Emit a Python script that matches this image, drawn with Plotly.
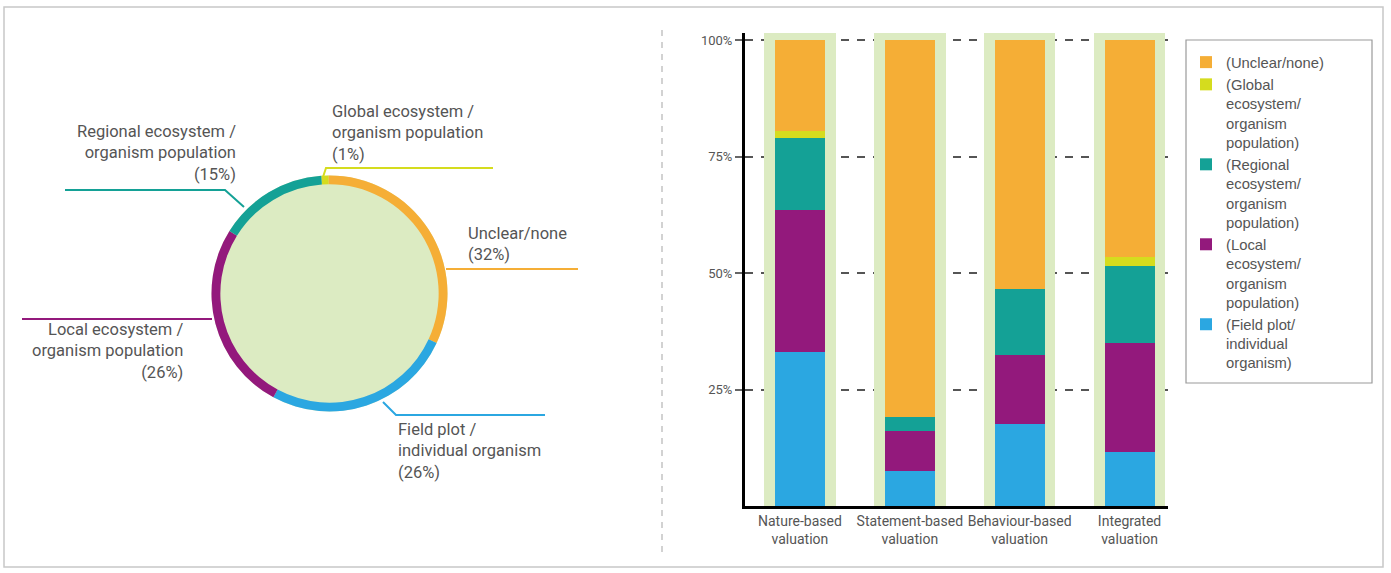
import plotly.graph_objects as go
import numpy as np

W, H = 1391, 573

# ---------------- data ----------------
pie_labels = ["Global ecosystem / organism population", "Unclear/none",
              "Field plot / individual organism", "Local ecosystem / organism population",
              "Regional ecosystem / organism population"]
pie_values = [1, 32, 26, 26, 15]
pie_colors = ["#d5dc1e", "#f5ae36", "#2ba7e1", "#93197c", "#14a196"]

categories = ["Nature-based<br>valuation", "Statement-based<br>valuation",
              "Behaviour-based<br>valuation", "Integrated<br>valuation"]
field_plot = [33, 7.5, 17.5, 11.5]
local_eco = [30.5, 8.5, 15, 23.5]
regional_eco = [15.5, 3, 14, 16.5]
global_eco = [1.5, 0, 0, 2]
unclear = [19.5, 81, 53.5, 46.5]

series_names = ["(Unclear/none)", "(Global<br>ecosystem/<br>organism<br>population)",
                "(Regional<br>ecosystem/<br>organism<br>population)",
                "(Local<br>ecosystem/<br>organism<br>population)",
                "(Field plot/<br>individual<br>organism)"]
series_colors = ["#f5ae36", "#d5dc1e", "#14a196", "#93197c", "#2ba7e1"]
ytick_vals = [25, 50, 75, 100]
ytick_text = ["25%", "50%", "75%", "100%"]

GREEN = "#dcebc2"
TXT = "#555555"


def px(x):
    return x / W


def py(y):
    return 1 - y / H


fig = go.Figure()

# ---------------- donut ----------------
cx, cy, R = 329.5, 293.5, 118
dom = dict(x=[px(cx - R), px(cx + R)], y=[py(cy + R), py(cy - R)])
fig.add_trace(go.Pie(values=[1], labels=["fill"], domain=dom, marker=dict(colors=[GREEN]),
                     textinfo="none", hoverinfo="skip", showlegend=False, sort=False))
fig.add_trace(go.Pie(values=pie_values, labels=pie_labels, domain=dom, hole=0.925,
                     marker=dict(colors=pie_colors, line=dict(width=0)),
                     direction="clockwise", rotation=-4, sort=False,
                     textinfo="none", showlegend=False))

# ---------------- stacked bars ----------------
YTOP = 101.5
fig.add_trace(go.Bar(x=categories, y=[YTOP] * len(categories), width=0.65,
                     marker=dict(color=GREEN, line=dict(width=0)),
                     showlegend=False, hoverinfo="skip"))
stack_order = [field_plot, local_eco, regional_eco, global_eco, unclear]
bases = np.cumsum([[0] * 4] + stack_order[:-1], axis=0)
legend_data = list(zip(series_names, series_colors,
                       [unclear, global_eco, regional_eco, local_eco, field_plot]))
base_map = {id(s): b for s, b in zip(stack_order, bases)}
for name, col, vals in legend_data:
    fig.add_trace(go.Bar(x=categories, y=vals, base=list(base_map[id(vals)]), width=0.455,
                         name=name, marker=dict(color=col, line=dict(width=0))))

# ---------------- shapes ----------------
shapes = []
shapes.append(dict(type="rect", xref="paper", yref="paper", x0=px(4), x1=px(1383), y0=py(567), y1=py(7),
                   line=dict(color="#c8c8c8", width=1.5), layer="below"))
shapes.append(dict(type="line", xref="paper", yref="paper", x0=px(662), x1=px(662), y0=py(30), y1=py(556),
                   line=dict(color="#b5b5b5", width=1.2, dash="6px,6px")))
# legend box
shapes.append(dict(type="rect", xref="paper", yref="paper", x0=px(1186), x1=px(1372), y0=py(383), y1=py(40),
                   line=dict(color="#9a9a9a", width=1.2)))


def leader(pts, color):
    path = "M " + " L ".join(f"{px(x)},{py(y)}" for x, y in pts)
    shapes.append(dict(type="path", xref="paper", yref="paper", path=path,
                       line=dict(color=color, width=2)))


leader([(244, 207), (225, 190), (65, 190)], "#14a196")
leader([(323, 177), (326, 168), (493, 168)], "#d5dc1e")
leader([(446, 269), (578, 269)], "#f5ae36")
leader([(212, 319), (22, 319)], "#93197c")
leader([(383, 402), (396, 415), (545, 415)], "#2ba7e1")

# ---------------- annotations ----------------
ann = []
FONT = dict(family="Roboto", size=16.5, color=TXT)


def label(text, x, y, anchor):
    ann.append(dict(text=text, x=px(x), y=py(y), xref="paper", yref="paper", showarrow=False,
                    xanchor=anchor, yanchor="top", align=anchor, font=FONT))


label("Regional ecosystem /<br>organism population<br>(15%)", 238, 120, "right")
label("Global ecosystem /<br>organism population<br>(1%)", 330, 100, "left")
label("Unclear/none<br>(32%)", 466, 222, "left")
label("Local ecosystem /<br>organism population<br>(26%)", 185, 318, "right")
label("Field plot /<br>individual organism<br>(26%)", 396, 418, "left")

y_per = (506 - 40) / 100.0
fig.update_layout(
    width=W, height=H, margin=dict(l=0, r=0, t=0, b=0),
    paper_bgcolor="white", plot_bgcolor="white",
    barmode="overlay", bargap=0,
    shapes=shapes, annotations=ann,
    xaxis=dict(domain=[px(745), px(1168)], range=[-0.5, 3.35], showline=True, linecolor="black",
               linewidth=3, ticks="", showgrid=False, zeroline=False,
               tickfont=dict(family="Roboto", size=14, color=TXT)),
    yaxis=dict(domain=[py(506), py(40 - (YTOP - 100) * y_per)], range=[0, YTOP],
               tickvals=ytick_vals, ticktext=ytick_text,
               showline=True, linecolor="black", linewidth=3, ticks="outside", ticklen=7,
               tickcolor="#666", tickwidth=2, showgrid=True, gridcolor="#555", gridwidth=2,
               griddash="8px,8px", zeroline=False,
               tickfont=dict(family="Roboto", size=13, color=TXT)),
    legend=dict(x=px(1186), y=py(46), xanchor="left", yanchor="top", borderwidth=0,
                bgcolor="rgba(0,0,0,0)",
                font=dict(family="Liberation Sans", size=14.8, color=TXT),
                traceorder="normal", valign="top", itemwidth=30),
    showlegend=True,
)

fig.write_html("out.html", config={"displayModeBar": False},
               post_script="document.body.style.margin='0px';")
